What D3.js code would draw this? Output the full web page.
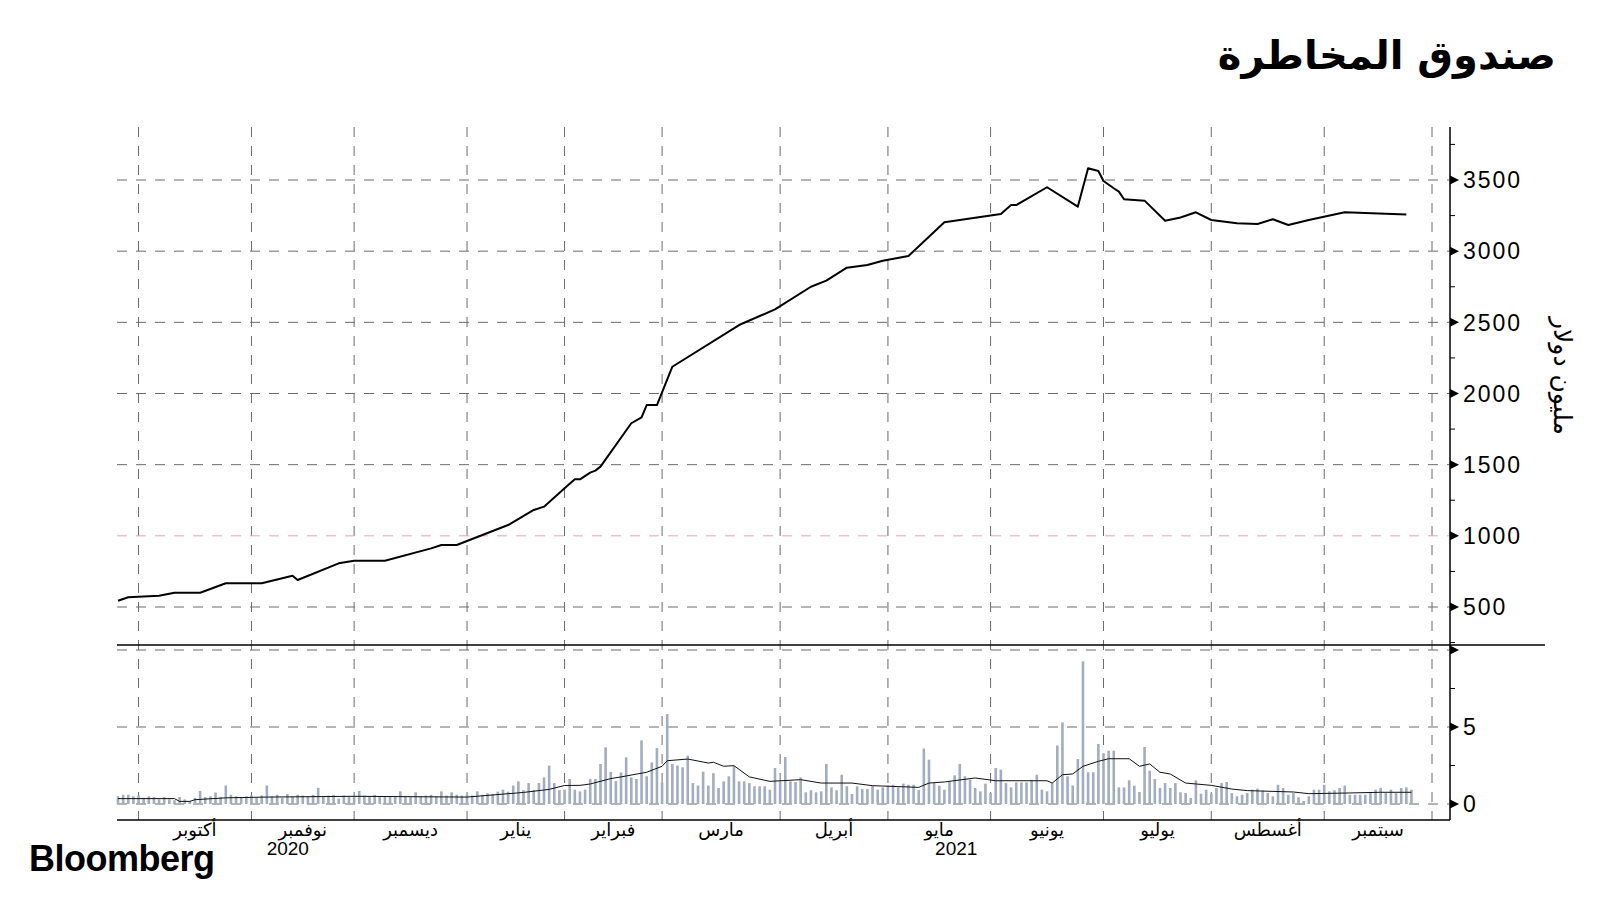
<!DOCTYPE html>
<html>
<head>
<meta charset="utf-8">
<script src="https://cdn.jsdelivr.net/npm/d3@7"></script>
<style>
  body { margin: 0; background: #fff; }
  svg { display: block; }
  .num { font-family: "Liberation Sans", Arial, sans-serif; }
  .ar { font-family: "DejaVu Sans", sans-serif; }
</style>
</head>
<body>
<script>
// month labels along the bottom and trading days in each month
var monthLabels = ["أكتوبر", "نوفمبر", "ديسمبر", "يناير", "فبراير", "مارس", "أبريل", "مايو", "يونيو", "يوليو", "أغسطس", "سبتمبر"];
var monthDays = [22, 20, 22, 19, 19, 23, 21, 20, 22, 21, 22, 21];
var yearLabels = [{ month: 1, text: "2020", dx: -15 }, { month: 7, text: "2021", dx: 17 }];

// top panel: fund size (million dollars), vertices of the line by trading day (0 = 1 Oct 2020)
var lineDays = [-4, -2, 4, 7, 12, 17, 24, 30, 31, 39, 42, 48, 57, 59, 62, 64, 72, 77, 79, 83, 85, 86, 88, 89, 90,
  96, 98, 99, 101, 104, 117, 124, 131, 134, 138, 142, 145, 150, 157, 168, 170, 171, 177, 183, 185, 187, 188,
  190, 191, 192, 196, 200, 203, 206, 209, 214, 218, 221, 224, 228, 235, 247];
var lineValues = [544, 568, 579, 600, 600, 667, 667, 720, 690, 807, 825, 825, 912, 936, 936, 964, 1076, 1182, 1205, 1334, 1397, 1397, 1444, 1458, 1486,
  1791, 1833, 1919, 1919, 2188, 2481, 2591, 2750, 2793, 2884, 2903, 2933, 2966, 3203, 3261, 3324, 3324, 3449, 3313, 3582, 3563, 3493,
  3442, 3418, 3365, 3355, 3214, 3237, 3273, 3219, 3196, 3191, 3224, 3184, 3219, 3273, 3257];
var topTicks = [500, 1000, 1500, 2000, 2500, 3000, 3500];
var topMinor = [250, 750, 1250, 1750, 2250, 2750, 3250, 3750];
var redLevel = 1000;

// bottom panel: daily bars from day -4 to day 248
var barStart = -4;
var barValues = [
  0.5, 0.6, 0.6, 0.5,
  0.55, 0.4, 0.5, 0.45, 0.3, 0.45, 0.3, 0.25, 0.45, 0.3, 0.2, 0.4,
  0.85, 0.45, 0.5, 0.75, 0.45, 1.2, 0.6, 0.5, 0.4, 0.5, 0.55, 0.4,
  0.55, 1.2, 0.5, 0.6, 0.4, 0.65, 0.5, 0.6, 0.55, 0.5, 0.6, 1.05,
  0.5, 0.55, 0.6, 0.35, 0.55, 0.45, 0.5, 0.85, 0.55, 0.5, 0.6, 0.45,
  0.5, 0.45, 0.5, 0.82, 0.5, 0.45, 0.76, 0.5, 0.55, 0.6, 0.5, 0.82,
  0.55, 0.76, 0.6, 0.55, 0.6, 0.55, 0.82, 0.6, 0.7, 0.65, 0.8, 0.93,
  0.8, 1.2, 1.47, 0.9, 1.36, 0.9, 1.36, 1.73, 2.49, 1.36, 0.9, 0.93,
  1.62, 0.93, 0.82, 0.93, 1.62, 1.62, 2.6, 3.68, 2.08, 1.5, 2.05, 3.03,
  1.73, 1.62, 4.13, 1.8, 2.7, 3.64, 1.4, 5.84, 2.6, 2.5, 2.38, 3.14,
  1.36, 1.2, 2.1, 1.2, 2.0, 1.04, 1.47, 1.8, 2.45, 1.47, 1.47, 1.36,
  1.15, 1.15, 1.15, 0.93, 2.34, 1.4, 3.05, 1.47, 1.43, 1.73, 0.76, 0.89,
  0.76, 0.82, 2.6, 1.08, 0.89, 1.9, 1.15, 0.65, 1.15, 0.97, 0.97, 1.2,
  0.93, 1.08, 1.2, 1.25, 1.08, 1.32, 1.25, 1.25, 0.9, 3.6, 2.88, 1.36,
  1.19, 0.93, 1.47, 1.86, 2.6, 1.8, 1.58, 1.04, 0.82, 1.32, 0.71, 2.34,
  2.23, 1.36, 1.08, 1.4, 1.4, 1.4, 1.58, 1.9, 0.93, 0.82, 1.36, 3.8,
  5.3, 1.8, 1.2, 2.92, 9.26, 2.06, 2.06, 3.9, 3.3, 3.46, 3.46, 1.08,
  1.08, 1.54, 1.19, 0.78, 3.7, 2.16, 1.62, 1.04, 1.36, 1.04, 1.36, 0.76,
  0.71, 0.39, 1.54, 0.67, 0.93, 0.67, 1.04, 1.36, 1.43, 0.71, 0.5, 0.6,
  0.71, 0.93, 1.0, 0.87, 0.71, 0.5, 1.25, 1.04, 0.6, 0.71, 0.43, 0.2,
  0.5, 0.93, 0.93, 1.25, 0.82, 0.89, 1.04, 1.2, 0.6, 0.6, 0.6, 0.6,
  0.71, 0.93, 1.04, 0.71, 0.93, 0.71, 1.04, 1.08, 0.93
];
// moving average line in the bottom panel (vertices)
var avgDays = [-4, 7, 8, 10, 11, 17, 25, 42, 64, 75, 80, 83, 86, 88, 92, 94, 99, 102, 103, 107, 111, 112, 114, 116, 119, 123,
  129, 133, 139, 143, 152, 154, 157, 163, 167, 177, 178, 180, 182, 184, 187, 189, 193, 195, 197, 199, 201, 204, 209, 213, 216,
  225, 228, 235, 242, 248];
var avgValues = [0.35, 0.35, 0.17, 0.17, 0.28, 0.4, 0.45, 0.5, 0.45, 0.75, 0.95, 1.2, 1.21, 1.3, 1.65, 1.76, 2.06, 2.45, 2.81, 2.92, 2.66, 2.71, 2.45, 2.49, 1.76, 1.47,
  1.58, 1.36, 1.36, 1.19, 1.08, 1.36, 1.43, 1.69, 1.51, 1.51, 1.36, 1.9, 1.95, 2.45, 2.77, 2.94, 2.94, 2.45, 2.6, 2.06, 1.95, 1.36, 1.21, 0.97, 0.87,
  0.78, 0.67, 0.71, 0.76, 0.76];
var botTicks = [0, 5, 10];
var botLabels = ["0", "5", ""];
var botMinor = [2.5, 7.5];

var title = "صندوق المخاطرة";
var unitLabel = "مليون دولار";

var svg = d3.select("body").append("svg")
  .attr("width", 1600)
  .attr("height", 900);

var plotLeft = 117, axisX = 1450, plotTop = 127, splitY = 645, plotBottom = 820;

var x = d3.scaleLinear().domain([-4, 252]).range([118, 1432]);
var yTop = d3.scaleLinear().domain([500, 3500]).range([607, 180]);
var yBot = d3.scaleLinear().domain([0, 10]).range([804, 650]);

var monthStarts = [0].concat(Array.from(d3.cumsum(monthDays)));

var grid = svg.append("g").attr("fill", "none").attr("stroke-width", 1);

// vertical month gridlines
grid.selectAll("line.v")
  .data(monthStarts)
  .enter()
  .append("line")
  .attr("x1", d => x(d)).attr("x2", d => x(d))
  .attr("y1", plotTop).attr("y2", plotBottom)
  .attr("stroke", "#6b6b6b")
  .attr("stroke-dasharray", "10,9");

// horizontal gridlines top panel
grid.selectAll("line.ht")
  .data(topTicks)
  .enter()
  .append("line")
  .attr("x1", plotLeft).attr("x2", axisX)
  .attr("y1", d => yTop(d)).attr("y2", d => yTop(d))
  .attr("stroke", d => d === redLevel ? "#f2a3a3" : "#6b6b6b")
  .attr("stroke-dasharray", "10,9");

// horizontal gridlines bottom panel
grid.selectAll("line.hb")
  .data(botTicks)
  .enter()
  .append("line")
  .attr("x1", plotLeft).attr("x2", axisX)
  .attr("y1", d => yBot(d)).attr("y2", d => yBot(d))
  .attr("stroke", "#6b6b6b")
  .attr("stroke-dasharray", "10,9");

// bars
svg.append("g").selectAll("rect")
  .data(barValues)
  .enter()
  .append("rect")
  .attr("x", (d, i) => x(barStart + i) - 1.3)
  .attr("width", 2.6)
  .attr("y", d => yBot(d))
  .attr("height", d => yBot(0) - yBot(d))
  .attr("fill", "#a2adc2");

// moving average
svg.append("path")
  .datum(d3.zip(avgDays, avgValues))
  .attr("fill", "none")
  .attr("stroke", "#111")
  .attr("stroke-width", 1)
  .attr("d", d3.line().x(d => x(d[0])).y(d => yBot(d[1])));

// main line
svg.append("path")
  .datum(d3.zip(lineDays, lineValues))
  .attr("fill", "none")
  .attr("stroke", "#000")
  .attr("stroke-width", 2)
  .attr("stroke-linejoin", "round")
  .attr("d", d3.line().x(d => x(d[0])).y(d => yTop(d[1])));

// frame lines
svg.append("line").attr("x1", plotLeft).attr("x2", 1545).attr("y1", splitY).attr("y2", splitY)
  .attr("stroke", "#000").attr("stroke-width", 1.5);
svg.append("line").attr("x1", plotLeft).attr("x2", axisX).attr("y1", plotBottom).attr("y2", plotBottom)
  .attr("stroke", "#000").attr("stroke-width", 1.5);
svg.append("line").attr("x1", axisX).attr("x2", axisX).attr("y1", plotTop).attr("y2", plotBottom)
  .attr("stroke", "#000").attr("stroke-width", 1.5);

// right axes: arrow ticks, minor ticks, labels
function arrowTicks(scale, ticks, minor, labels) {
  var g = svg.append("g");
  g.selectAll("path.arrow")
    .data(ticks)
    .enter()
    .append("path")
    .attr("d", d => `M${axisX},${scale(d) - 4.5}L${axisX + 9},${scale(d)}L${axisX},${scale(d) + 4.5}Z`)
    .attr("fill", "#000");
  g.selectAll("line.minor")
    .data(minor)
    .enter()
    .append("line")
    .attr("x1", axisX).attr("x2", axisX + 5)
    .attr("y1", d => scale(d)).attr("y2", d => scale(d))
    .attr("stroke", "#000");
  g.selectAll("text")
    .data(ticks)
    .enter()
    .append("text")
    .attr("class", "num")
    .attr("x", axisX + 13)
    .attr("y", d => scale(d))
    .attr("dy", "0.36em")
    .attr("font-size", 23)
    .attr("letter-spacing", 2)
    .text((d, i) => labels[i]);
}
arrowTicks(yTop, topTicks, topMinor, topTicks.map(String));
arrowTicks(yBot, botTicks, botMinor, botLabels);

// month labels
var monthMid = monthLabels.map((m, i) => (monthStarts[i] + monthStarts[i + 1]) / 2);
svg.append("g").selectAll("text")
  .data(monthLabels)
  .enter()
  .append("text")
  .attr("class", "ar")
  .attr("x", (d, i) => x(monthMid[i]))
  .attr("y", 836)
  .attr("text-anchor", "middle")
  .attr("font-size", 18)
  .text(d => d);

svg.append("g").selectAll("text")
  .data(yearLabels)
  .enter()
  .append("text")
  .attr("class", "num")
  .attr("x", d => x(monthMid[d.month]) + d.dx)
  .attr("y", 855)
  .attr("text-anchor", "middle")
  .attr("font-size", 19)
  .text(d => d.text);

// unit label
svg.append("text")
  .attr("class", "ar")
  .attr("transform", "translate(1554, 376) rotate(90)")
  .attr("text-anchor", "middle")
  .attr("font-size", 25)
  .text(unitLabel);

// title
svg.append("text")
  .attr("class", "ar")
  .attr("x", 1556)
  .attr("y", 69)
  .attr("text-anchor", "end")
  .attr("font-size", 40)
  .attr("font-weight", "bold")
  .text(title);

// logo
svg.append("text")
  .attr("class", "num")
  .attr("x", 29)
  .attr("y", 871)
  .attr("font-size", 36)
  .attr("font-weight", "bold")
  .attr("letter-spacing", -0.5)
  .text("Bloomberg");
</script>
</body>
</html>
